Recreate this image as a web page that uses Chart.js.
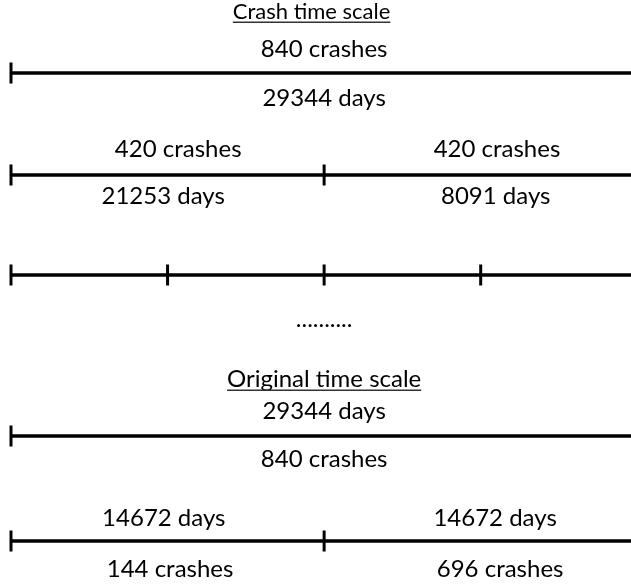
<!DOCTYPE html>
<html><head><meta charset="utf-8">
<script src="https://cdn.jsdelivr.net/npm/chart.js@4"></script>
<style>html,body{margin:0;padding:0;background:#fff}#wrap{width:631px;height:588px}</style>
</head><body><div id="wrap"><canvas id="c"></canvas></div>
<script>
// Split points of each timeline (fraction of the whole period)
const crashLevel1 = [0, 1];
const crashLevel2 = [0, 0.5, 1];
const crashLevel3 = [0, 0.25, 0.5, 0.75, 1];
const originalLevel1 = [0, 1];
const originalLevel2 = [0, 0.5, 1];

// Texts
const titles = ['Crash time scale', 'Original time scale'];
const crashL1Above = ['840 crashes'];
const crashL1Below = ['29344 days'];
const crashL2Above = ['420 crashes', '420 crashes'];
const crashL2Below = ['21253 days', '8091 days'];
const originalL1Above = ['29344 days'];
const originalL1Below = ['840 crashes'];
const originalL2Above = ['14672 days', '14672 days'];
const originalL2Below = ['144 crashes', '696 crashes'];
const ellipsis = '..........';

// Layout: timeline rows and text baselines (vertical), label centres (horizontal)
const rowY = {t1: 19, c1a: 57, c1: 73, c1b: 106, c2a: 157, c2: 175, c2b: 204, c3: 275, dots: 327,
  t2: 387, o1a: 419, o1: 436, o1b: 467, o2a: 526, o2: 541, o2b: 577};
const centreX = {full: 0.5, t1: 0.48, c2aL: 0.267, c2aR: 0.776, c2bL: 0.243, c2bR: 0.774,
  o2aL: 0.244, o2aR: 0.773, o2bL: 0.254, o2bR: 0.781};

function seg(xs, y) { return xs.map(x => ({x: x, y: y})); }
function ds(xs, y) {
  return {type: 'line', data: seg(xs, y), borderColor: '#000', borderWidth: 3.5,
    pointStyle: 'line', rotation: 90, pointRadius: 10.5, pointBorderWidth: 3,
    pointBorderColor: '#000', pointBackgroundColor: '#000', clip: false, tension: 0};
}

const texts = [
  {t: titles[0], x: centreX.t1, y: rowY.t1, u: true, f: 22},
  {t: crashL1Above[0], x: centreX.full, y: rowY.c1a},
  {t: crashL1Below[0], x: centreX.full, y: rowY.c1b},
  {t: crashL2Above[0], x: centreX.c2aL, y: rowY.c2a},
  {t: crashL2Above[1], x: centreX.c2aR, y: rowY.c2a},
  {t: crashL2Below[0], x: centreX.c2bL, y: rowY.c2b},
  {t: crashL2Below[1], x: centreX.c2bR, y: rowY.c2b},
  {t: ellipsis, x: centreX.full, y: rowY.dots},
  {t: titles[1], x: centreX.full, y: rowY.t2, u: true},
  {t: originalL1Above[0], x: centreX.full, y: rowY.o1a},
  {t: originalL1Below[0], x: centreX.full, y: rowY.o1b},
  {t: originalL2Above[0], x: centreX.o2aL, y: rowY.o2a},
  {t: originalL2Above[1], x: centreX.o2aR, y: rowY.o2a},
  {t: originalL2Below[0], x: centreX.o2bL, y: rowY.o2b},
  {t: originalL2Below[1], x: centreX.o2bR, y: rowY.o2b}
];

const textPlugin = {
  id: 'texts',
  afterDatasetsDraw(chart) {
    const ctx = chart.ctx, sx = chart.scales.x, sy = chart.scales.y;
    ctx.save();
    ctx.fillStyle = '#000';
    ctx.textAlign = 'center';
    ctx.textBaseline = 'alphabetic';
    texts.forEach(o => {
      ctx.font = (o.f || 24) + 'px Lato, "Open Sans", sans-serif';
      const px = sx.getPixelForValue(o.x), py = sy.getPixelForValue(o.y);
      ctx.fillText(o.t, px, py);
      if (o.u) {
        const w = ctx.measureText(o.t).width;
        ctx.fillStyle = '#333';
        ctx.fillRect(px - w / 2, py + 2.5, w, 1.5);
        ctx.fillStyle = '#000';
      }
    });
    ctx.restore();
  }
};

new Chart(document.getElementById('c'), {
  type: 'scatter',
  data: {datasets: [
    ds(crashLevel1, rowY.c1), ds(crashLevel2, rowY.c2), ds(crashLevel3, rowY.c3),
    ds(originalLevel1, rowY.o1), ds(originalLevel2, rowY.o2)
  ]},
  options: {
    responsive: true, maintainAspectRatio: false, animation: false,
    layout: {autoPadding: false, padding: {left: 11, right: 0, top: 0, bottom: 0}},
    plugins: {legend: {display: false}, tooltip: {enabled: false}},
    scales: {
      x: {type: 'linear', min: 0, max: 0.99, display: false},
      y: {type: 'linear', min: 0, max: 588, reverse: true, display: false}
    }
  },
  plugins: [textPlugin]
});
</script></body></html>
